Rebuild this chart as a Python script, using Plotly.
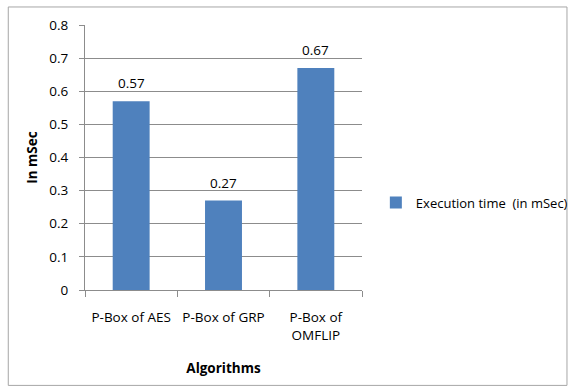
import plotly.graph_objects as go

categories = ["P-Box of AES", "P-Box of GRP", "P-Box of<br>OMFLIP"]
exec_time = [0.57, 0.27, 0.67]
series_name = "Execution time  (in mSec)"
y_ticks = [0, 0.1, 0.2, 0.3, 0.4, 0.5, 0.6, 0.7, 0.8]
y_tick_labels = ["0", "0.1", "0.2", "0.3", "0.4", "0.5", "0.6", "0.7", "0.8"]

FONT = "Open Sans, Liberation Sans, sans-serif"
BAR = "#4F81BD"
GRID = "#8C8C8C"

fig = go.Figure()
fig.add_trace(go.Bar(
    x=categories,
    y=exec_time,
    name=series_name,
    marker=dict(color=BAR, line=dict(width=0)),
    width=0.4,
    showlegend=True,
))

# value labels sitting above each bar
for cat, val in zip(categories, exec_time):
    fig.add_annotation(
        x=cat, y=val, xref="x", yref="y",
        text=f"{val:.2f}", showarrow=False,
        yanchor="bottom", yshift=7,
        font=dict(family=FONT, size=13.5, color="#000000"),
    )

fig.update_layout(
    width=585,
    height=391,
    margin=dict(l=85, r=215, t=25, b=101),
    paper_bgcolor="white",
    plot_bgcolor="white",
    font=dict(family=FONT, size=13.5, color="#000000"),
    showlegend=True,
    legend=dict(
        x=1.05, y=0.33, xanchor="left", yanchor="middle",
        font=dict(family=FONT, size=13, color="#000000"),
        bgcolor="rgba(0,0,0,0)",
        itemwidth=30,
    ),
    xaxis=dict(
        type="category",
        automargin=False,
        showgrid=False,
        showline=True,
        linecolor=GRID,
        linewidth=1,
        ticks="outside",
        tickson="boundaries",
        ticklen=6,
        tickcolor=GRID,
        tickangle=0,
        ticklabelstandoff=15,
        tickfont=dict(family=FONT, size=13.5),
        title=dict(text="<b>Algorithms</b>", font=dict(family=FONT, size=13.5), standoff=20),
    ),
    yaxis=dict(
        automargin=False,
        range=[0, 0.8],
        tickvals=y_ticks,
        ticktext=y_tick_labels,
        showgrid=True,
        gridcolor=GRID,
        gridwidth=1,
        showline=True,
        linecolor=GRID,
        linewidth=1,
        ticks="outside",
        ticklen=5,
        tickcolor=GRID,
        ticklabelstandoff=8,
        tickfont=dict(family=FONT, size=13.5),
        zeroline=False,
        title=dict(text="<b>In mSec</b>", font=dict(family=FONT, size=13.5), standoff=8),
    ),
    shapes=[dict(
        type="rect", xref="paper", yref="paper",
        x0=-0.277, x1=1.74, y0=-0.36, y1=1.068,
        line=dict(color="#A6A6A6", width=1),
        fillcolor="rgba(0,0,0,0)",
        layer="below",
    )],
)

fig.write_html("out.html")
